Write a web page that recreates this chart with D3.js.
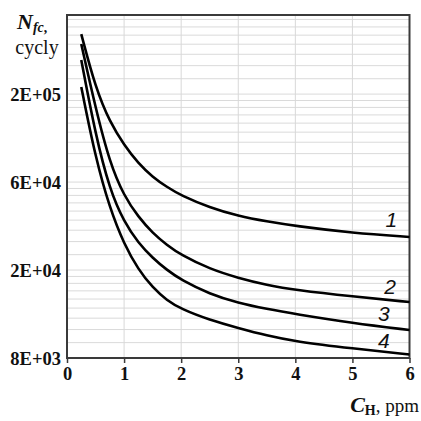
<!DOCTYPE html>
<html><head><meta charset="utf-8">
<script src="https://cdn.jsdelivr.net/npm/d3@7"></script>
<style>body{margin:0;background:#fff}svg{display:block}</style></head>
<body>
<svg id="c" width="421" height="421"></svg>
<script>
const xValues = [0.25, 0.5, 0.75, 1, 1.25, 1.5, 1.75, 2, 2.5, 3, 3.5, 4, 5, 6];
const curve1 = [322000, 174500, 118500, 91270, 73960, 63430, 56620, 51400, 44840, 40720, 38250, 36340, 33560, 32070];
const curve2 = [287700, 139000, 74380, 51110, 40260, 33560, 29280, 26130, 22290, 20120, 18580, 17555, 16305, 15315];
const curve3 = [239900, 102250, 54720, 38030, 29950, 25260, 22040, 19670, 16770, 15140, 14145, 13360, 12060, 11140];
const curve4 = [176450, 78730, 44390, 29550, 22140, 18040, 15600, 14145, 12480, 11400, 10465, 9775, 9030, 8430];
const curveNames = ["1", "2", "3", "4"];
const xTicks = [0, 1, 2, 3, 4, 5, 6];
const yTickValues = [Math.exp(9), Math.exp(10), Math.exp(11), Math.exp(12)];
const yTickLabels = ["8E+03", "2E+04", "6E+04", "2E+05"];

const svg = d3.select("#c");
const L = 67, R = 409.5, T = 15, B = 358;
const x = d3.scaleLinear().domain([0, 6]).range([L, R]);
const y = d3.scaleLog().domain([Math.exp(9), 4e5]).range([B, T]);

// minor horizontal gridlines (9 linear steps per major interval)
const minor = [];
for (let k = 9; k <= 12; k++) {
  const a = Math.exp(k), b = Math.exp(k + 1);
  for (let j = 0; j < 9; j++) {
    const v = a + j * (b - a) / 9;
    if (v > Math.exp(9) && v < 4e5) minor.push(v);
  }
}
svg.append("g").selectAll("line").data(minor).join("line")
  .attr("x1", L).attr("x2", R)
  .attr("y1", d => y(d)).attr("y2", d => y(d))
  .attr("stroke", "#dadada").attr("stroke-width", 1);
svg.append("g").selectAll("line").data(xTicks.slice(1, -1)).join("line")
  .attr("y1", T).attr("y2", B)
  .attr("x1", d => x(d)).attr("x2", d => x(d))
  .attr("stroke", "#d8d8d8").attr("stroke-width", 1);

// frame
svg.append("rect").attr("x", L).attr("y", T).attr("width", R - L).attr("height", B - T)
  .attr("fill", "none").attr("stroke", "#3a3a3a").attr("stroke-width", 2);

// x axis
const xa = svg.append("g").attr("transform", `translate(0,${B})`)
  .call(d3.axisBottom(x).tickValues(xTicks).tickSize(5).tickFormat(d3.format("d")));
xa.select(".domain").remove();
xa.selectAll("line").attr("stroke", "#3a3a3a").attr("stroke-width", 1.5);
xa.selectAll("text").attr("font-family", "Liberation Serif, Times New Roman, serif")
  .attr("font-weight", "bold").attr("font-size", 18.5).attr("fill", "#111").attr("dy", "0.95em").attr("y", 4);

// y axis
const ya = svg.append("g").attr("transform", `translate(${L},0)`)
  .call(d3.axisLeft(y).tickValues(yTickValues).tickSize(0).tickPadding(6)
    .tickFormat((d, i) => yTickLabels[i]));
ya.select(".domain").remove();
ya.selectAll("text").attr("font-family", "Liberation Serif, Times New Roman, serif")
  .attr("font-weight", "bold").attr("font-size", 18.5).attr("fill", "#111").attr("dy", "0.35em");

// curves
const line = d3.line().x((d, i) => x(xValues[i])).y(d => y(d)).curve(d3.curveBasis);
const series = [curve1, curve2, curve3, curve4];
svg.append("g").selectAll("path").data(series).join("path")
  .attr("d", line).attr("fill", "none").attr("stroke", "#000").attr("stroke-width", 2.6);

// curve labels
const labelX = [5.68, 5.66, 5.55, 5.55];
const labelDy = [-9, -6, -6, -4];
svg.append("g").selectAll("text").data(series).join("text")
  .attr("x", (d, i) => x(labelX[i]))
  .attr("y", (d, i) => {
    const xi = labelX[i];
    const j = d3.bisectLeft(xValues, xi);
    const t = (xi - xValues[j - 1]) / (xValues[j] - xValues[j - 1]);
    const v = Math.exp(Math.log(d[j - 1]) * (1 - t) + Math.log(d[j]) * t);
    return y(v) + labelDy[i];
  })
  .attr("text-anchor", "middle")
  .attr("font-family", "Liberation Sans, Arial, sans-serif")
  .attr("font-style", "italic").attr("font-size", 21).attr("fill", "#111")
  .text((d, i) => curveNames[i]);

// axis titles
const ty = svg.append("text").attr("x", 17).attr("y", 29)
  .attr("font-family", "Liberation Serif, Times New Roman, serif").attr("fill", "#111");
ty.append("tspan").attr("font-weight", "bold").attr("font-style", "italic").attr("font-size", 22).text("N");
ty.append("tspan").attr("font-weight", "bold").attr("font-style", "italic").attr("font-size", 14).attr("dy", 3).text("fc");
ty.append("tspan").attr("font-weight", "bold").attr("font-size", 14).text(",");
svg.append("text").attr("x", 37).attr("y", 54).attr("text-anchor", "middle")
  .attr("font-family", "Liberation Serif, Times New Roman, serif").attr("font-size", 20).attr("fill", "#111").text("cycly");

const tx = svg.append("text").attr("x", 419).attr("y", 412).attr("text-anchor", "end")
  .attr("font-family", "Liberation Serif, Times New Roman, serif").attr("fill", "#111");
tx.append("tspan").attr("font-weight", "bold").attr("font-style", "italic").attr("font-size", 22).text("C");
tx.append("tspan").attr("font-weight", "bold").attr("font-size", 14).attr("dy", 3).text("H");
tx.append("tspan").attr("font-size", 19).attr("dy", -3).text(", ppm");
</script>
</body></html>
